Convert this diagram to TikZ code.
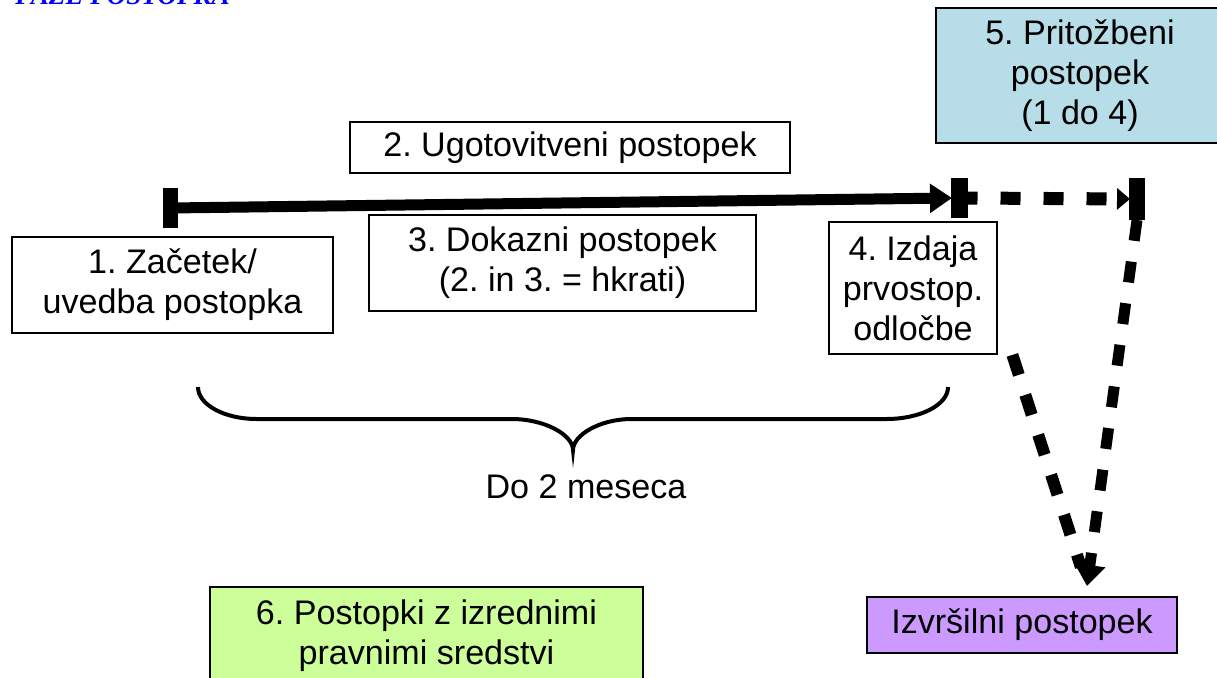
\documentclass[tikz,border=0pt]{standalone}
\usepackage{fontspec}
\setmainfont{Liberation Sans}
\newfontfamily\headfont{Liberation Serif}
\usetikzlibrary{arrows.meta}
\definecolor{appealcyan}{RGB}{183,222,232}
\definecolor{remedygreen}{RGB}{204,255,153}
\definecolor{enforcepurple}{RGB}{204,153,255}
\definecolor{headblue}{RGB}{0,0,255}
\frenchspacing

\begin{document}
\begin{tikzpicture}[scale=1,
	box/.style={draw=black, line width=1pt, align=center, inner sep=0pt, font=\fontsize{19.4}{22.8}\selectfont},
	caption/.style={inner sep=0pt, font=\fontsize{19.4}{22.8}\selectfont},
	timebar/.style={line width=0.3cm},
	mainline/.style={line width=0.22cm, -{Triangle[length=0.44cm,width=0.56cm]}},
	dashline/.style={line width=0.24cm, dash pattern=on 0.42cm off 0.42cm}
]
	\path[use as bounding box, clip] (0,0) rectangle (24.34,-13.54);
	
	\node[anchor=base west, inner sep=0pt, text=headblue, font=\headfont\bfseries\itshape\fontsize{15.4}{18}\selectfont] (title) at (0.3,-0.09) {FAZE POSTOPKA};
	
	\node[box, minimum width=6.42cm, minimum height=1.92cm] (begin) at (3.45,-5.70) {1. Začetek/\\uvedba postopka};
	\node[box, minimum width=8.8cm, minimum height=1.02cm] (inquiry) at (11.4,-2.95) {2. Ugotovitveni postopek};
	\node[box, minimum width=7.74cm, minimum height=1.92cm] (evidence) at (11.25,-5.26) {3. Dokazni postopek\\(2. in 3. = hkrati)};
	\node[box, minimum width=3.36cm, minimum height=2.64cm] (decision) at (18.26,-5.76) {4. Izdaja\\prvostop.\\odločbe};
	\node[box, fill=appealcyan, minimum width=5.76cm, minimum height=2.7cm] (appeal) at (21.6,-1.51) {5. Pritožbeni\\postopek\\(1 do 4)};
	\node[box, fill=remedygreen, minimum width=8.66cm, minimum height=1.96cm] (remedy) at (8.53,-12.72) {6. Postopki z izrednimi\\pravnimi sredstvi};
	\node[box, fill=enforcepurple, minimum width=6.2cm, minimum height=1.12cm] (enforce) at (20.44,-12.5) {Izvršilni postopek};
	
	\coordinate (beginbar) at (3.41,-4.16);
	\coordinate (decisionbar) at (19.18,-3.96);
	\coordinate (appealbar) at (22.74,-3.98);
	\coordinate (meet) at (21.74,-11.72);
	
	\draw[timebar] ([yshift=0.4cm]beginbar) -- ([yshift=-0.4cm]beginbar);
	\draw[mainline] (beginbar) -- ([xshift=-0.14cm]decisionbar);
	\draw[timebar, line width=0.34cm] ([yshift=0.4cm]decisionbar) -- ([yshift=-0.4cm]decisionbar);
	
	\draw[dashline, line width=0.26cm, dash pattern=on 0.4cm off 0.46cm, dash phase=0.2cm, -{Triangle[length=0.26cm,width=0.42cm]}] ([xshift=0.17cm]decisionbar) -- ([xshift=-0.14cm]appealbar);
	\draw[timebar, line width=0.32cm] ([yshift=0.42cm]appealbar) -- ([yshift=-0.42cm]appealbar);
	
	\draw[dashline, line width=0.22cm, -{Triangle[length=0.42cm,width=0.6cm]}] ([yshift=-0.42cm]appealbar) -- (meet);
	\draw[dashline, shorten >=0.4cm] ([xshift=0.29cm]decision.south east) -- (meet);
	
	\draw[line width=0.08cm] (3.96,-7.74) .. controls (3.96,-8.1) and (4.5,-8.38) .. (5.13,-8.38) -- (10.23,-8.38)
		.. controls (10.9,-8.38) and (11.46,-8.7) .. (11.46,-9.0)
		.. controls (11.46,-8.7) and (12.0,-8.38) .. (12.63,-8.38) -- (17.73,-8.38)
		.. controls (18.4,-8.38) and (18.96,-8.1) .. (18.96,-7.74);
	\node[caption] (span) at (11.72,-9.74) {Do 2 meseca};
\end{tikzpicture}
\end{document}
